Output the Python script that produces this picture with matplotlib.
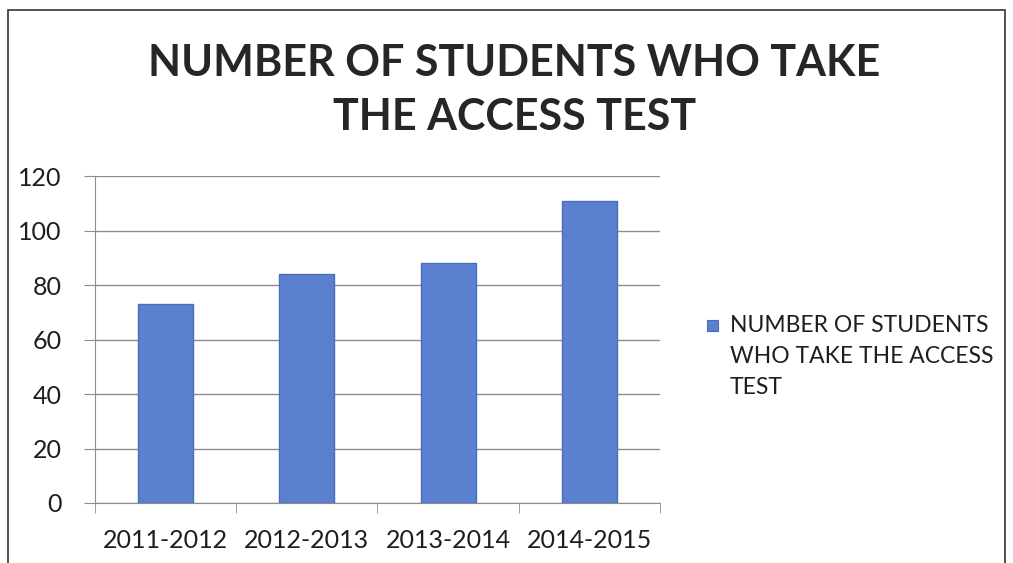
import matplotlib.pyplot as plt
from matplotlib.patches import Rectangle
import numpy as np

years = ['2011-2012', '2012-2013', '2013-2014', '2014-2015']
students = [73, 84, 88, 111]
series_name = 'NUMBER OF STUDENTS\nWHO TAKE THE ACCESS\nTEST'
title = 'NUMBER OF STUDENTS WHO TAKE\nTHE ACCESS TEST'
bar_color = '#5b80cf'

plt.rcParams['font.family'] = ['Lato', 'DejaVu Sans']

fig = plt.figure(figsize=(10.13, 5.63), dpi=100)
ax = fig.add_axes([0.0938, 0.1066, 0.5577, 0.5804])

x = np.arange(len(years))
ax.bar(x, students, width=0.39, color=bar_color, edgecolor='#4a6dbb',
       linewidth=1, zorder=3)

ax.set_xlim(-0.5, len(years) - 0.5)
ax.set_ylim(0, 120)
ax.set_yticks(np.arange(0, 121, 20))
ax.set_xticks(x)
ax.set_xticklabels(years)
ax.set_xticks(np.arange(-0.5, len(years)), minor=True)
ax.grid(axis='y', color='#8c8c8c', linewidth=1, zorder=0)

for s in ['top', 'right']:
    ax.spines[s].set_visible(False)
for s in ['left', 'bottom']:
    ax.spines[s].set_color('#8c8c8c')

ax.tick_params(axis='y', length=8, color='#8c8c8c', labelsize=18, pad=16,
               labelcolor='#1e1e1e')
ax.tick_params(axis='x', which='major', length=0, labelsize=18, pad=19,
               labelcolor='#1e1e1e')
ax.tick_params(axis='x', which='minor', length=7, color='#8c8c8c')

# legend: marker beside the first line of the label
fig.patches.append(Rectangle((707 / 1013, 1 - 331 / 563), 11 / 1013, 11 / 563,
                             transform=fig.transFigure, facecolor=bar_color,
                             edgecolor='#4a6dbb', linewidth=0.8))
fig.text(730 / 1013, 1 - 315 / 563, series_name, ha='left', va='top',
         fontsize=16.5, color='#1e1e1e', linespacing=1.6)

fig.text(0.508, 0.84, title, ha='center', va='center', fontsize=31,
         fontweight='bold', color='#262626', linespacing=1.4)

# outer chart frame
fig.patches.append(Rectangle((8 / 1013, -5 / 563), 997 / 1013, 558 / 563,
                             transform=fig.transFigure, fill=False,
                             edgecolor='#333333', linewidth=1.2))

fig.savefig('out.png', dpi=100)
